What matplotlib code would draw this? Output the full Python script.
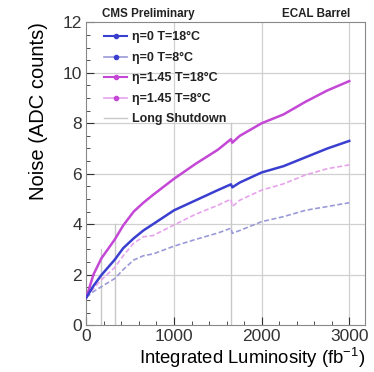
import numpy as np
import matplotlib
matplotlib.use("Agg")
import matplotlib.pyplot as plt
from matplotlib.ticker import MultipleLocator
from matplotlib.lines import Line2D

plt.rcParams['font.family'] = ['Liberation Sans', 'DejaVu Sans']

# integrated luminosity (fb^-1); the repeated 1650 point is the step at the long shutdown
lumi = [0, 80, 170, 325, 420, 540, 650, 760, 1000, 1250, 1500, 1650, 1665, 1750, 2000, 2250, 2500, 2750, 3000]

noise_eta0_18 = [1.1, 1.55, 1.98, 2.6, 3.05, 3.44, 3.75, 4.0, 4.55, 4.95, 5.35, 5.58, 5.46, 5.65, 6.05, 6.3, 6.65, 7.0, 7.3]
noise_eta0_8 = [1.1, 1.33, 1.52, 1.85, 2.2, 2.58, 2.75, 2.82, 3.13, 3.4, 3.65, 3.84, 3.64, 3.75, 4.1, 4.3, 4.55, 4.7, 4.85]
noise_eta145_18 = [1.1, 2.0, 2.64, 3.4, 3.95, 4.5, 4.85, 5.16, 5.8, 6.4, 6.95, 7.37, 7.23, 7.5, 8.0, 8.35, 8.85, 9.3, 9.67]
noise_eta145_8 = [1.1, 1.45, 1.79, 2.29, 2.75, 3.25, 3.5, 3.55, 3.97, 4.4, 4.75, 4.99, 4.7, 4.95, 5.35, 5.6, 5.95, 6.2, 6.35]

# long shutdowns: position and how far up the marker line goes
ls_lumi = [170, 325, 1650]
ls_top = [3, 4, 8]

c_blue = '#3b3fcf'
c_lblue = '#9a9ad8'
c_mag = '#c447d6'
c_lmag = '#e6a3ec'
c_grid = '#d0d0d0'

fig = plt.figure(figsize=(3.74, 3.72), dpi=100)
ax = fig.add_axes([0.231, 0.126, 0.745, 0.814])

for y in [2, 4, 6, 8, 10]:
    ax.axhline(y, color=c_grid, lw=0.9, zorder=0)
for x in [1000, 2000, 3000]:
    ax.axvline(x, color=c_grid, lw=0.9, zorder=0)
for x, top in zip(ls_lumi, ls_top):
    ax.plot([x, x], [0, top], color='#c8c8c8', lw=1.0, zorder=1)

ax.plot(lumi, noise_eta145_18, color=c_mag, lw=1.8, zorder=3)
ax.plot(lumi, noise_eta0_18, color=c_blue, lw=1.8, zorder=3)
ax.plot(lumi, noise_eta145_8, color=c_lmag, lw=1.2, ls=(0, (3, 1.5)), zorder=2)
ax.plot(lumi, noise_eta0_8, color=c_lblue, lw=1.2, ls=(0, (3, 1.5)), zorder=2)

ax.set_xlim(0, 3180)
ax.set_ylim(0, 12)
ax.xaxis.set_major_locator(MultipleLocator(1000))
ax.xaxis.set_minor_locator(MultipleLocator(200))
ax.yaxis.set_major_locator(MultipleLocator(2))
ax.yaxis.set_minor_locator(MultipleLocator(0.5))
ax.tick_params(which='both', direction='in', top=False, right=False, labelsize=12.5, colors='#333333')
ax.tick_params(which='major', length=6, pad=3)
ax.tick_params(which='minor', length=3)
for s in ax.spines.values():
    s.set_color('#888888')

ax.set_xlabel('Integrated Luminosity (fb$^{\\mathregular{-1}}$)', fontsize=13.3, loc='right', labelpad=1)
ax.set_ylabel('Noise (ADC counts)', fontsize=14.5, loc='top', labelpad=11)

fig.text(0.273, 0.953, 'CMS Preliminary', fontsize=8.4, fontweight='bold', color='#222222')
fig.text(0.936, 0.953, 'ECAL Barrel', fontsize=8.4, fontweight='bold', color='#222222', ha='right')

handles = [
    Line2D([], [], color=c_blue, lw=1.5, marker='o', ms=3),
    Line2D([], [], color=c_lblue, lw=1.2, marker='o', ms=3, mfc=c_blue, mec=c_blue),
    Line2D([], [], color=c_mag, lw=1.5, marker='o', ms=3),
    Line2D([], [], color=c_lmag, lw=1.2, marker='o', ms=3, mfc=c_mag, mec=c_mag),
    Line2D([], [], color='#c8c8c8', lw=1.0),
]
labels = ['\u03b7=0 T=18\u00b0C', '\u03b7=0 T=8\u00b0C',
          '\u03b7=1.45 T=18\u00b0C', '\u03b7=1.45 T=8\u00b0C', 'Long Shutdown']
leg = ax.legend(handles, labels, loc='upper left', bbox_to_anchor=(0.062, 0.97), frameon=False,
                prop={'size': 9, 'weight': 'bold'}, handlelength=1.9, handletextpad=0.4,
                labelspacing=0.68, borderaxespad=0.0, borderpad=0.0)
for t in leg.get_texts():
    t.set_color('#222222')

fig.savefig('out.png', dpi=100)
